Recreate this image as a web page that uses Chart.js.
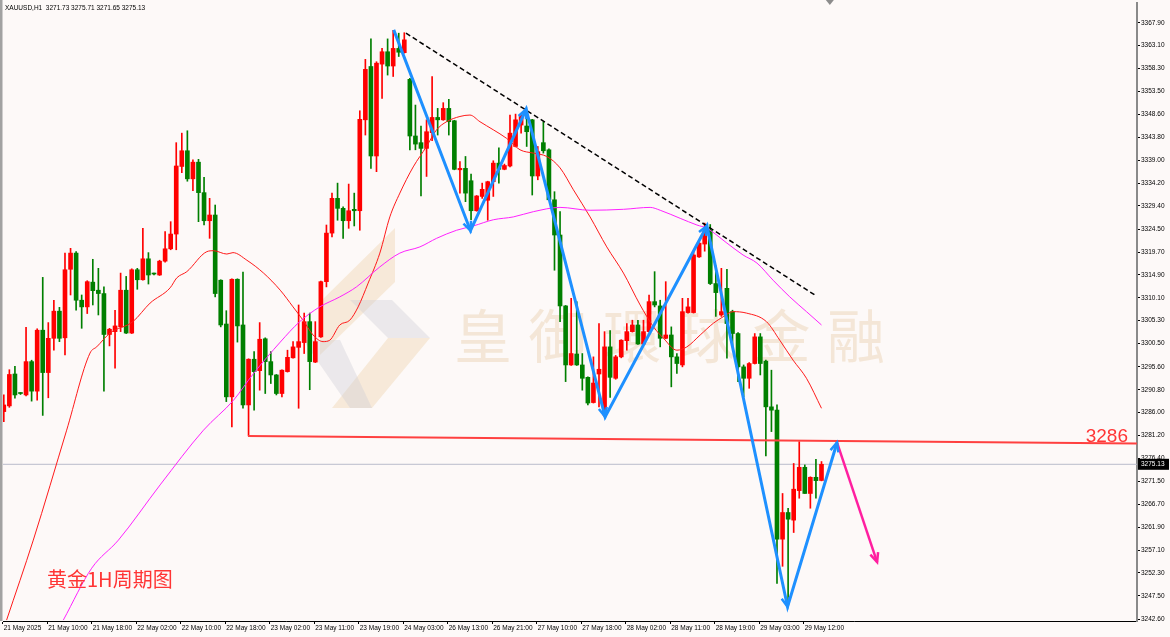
<!DOCTYPE html>
<html><head><meta charset="utf-8">
<script src="https://cdn.jsdelivr.net/npm/chart.js@4.4.1/dist/chart.umd.min.js"></script>
<style>html,body{margin:0;padding:0;background:#fdf9f8;}canvas{display:block;}</style>
</head><body>
<canvas id="c" width="1170" height="637"></canvas>
<script>
const symbolHeader = 'XAUUSD,H1  3271.73 3275.71 3271.65 3275.13';
const chartTitle = '黄金1H周期图';
const watermarkChars = ['皇','御','環','球','金','融'];
const xTickBars = [0,8,16,24,32,40,48,56,64,72,80,88,96,104,112,120,128,136,144];
const xTickLabels = ['21 May 2025','21 May 10:00','21 May 18:00','22 May 02:00','22 May 10:00','22 May 18:00','23 May 02:00','23 May 11:00','23 May 19:00','24 May 03:00','26 May 13:00','26 May 21:00','27 May 10:00','27 May 18:00','28 May 02:00','28 May 11:00','28 May 19:00','29 May 03:00','29 May 12:00'];
const yTickValues = [3367.90,3363.10,3358.30,3353.50,3348.60,3343.80,3339.00,3334.20,3329.40,3324.50,3319.70,3314.90,3310.10,3305.30,3300.50,3295.60,3290.80,3286.00,3281.20,3276.40,3271.50,3266.70,3261.90,3257.10,3252.30,3247.50,3242.60];

const open = [3286.2,3287.4,3294.1,3290.05,3289.7,3296.7,3290.5,3303.3,3294.4,3301.6,3307.3,3301.7,3316.1,3319.5,3309.6,3308.2,3313.4,3311.7,3311.0,3302.4,3303.0,3304.0,3311.7,3302.7,3316.0,3313.9,3318.3,3315.2,3314.9,3317.8,3320.4,3323.5,3337.7,3341.0,3335.1,3338.6,3332.2,3326.3,3327.5,3313.8,3304.6,3289.3,3314.0,3304.4,3287.6,3297.2,3294.8,3301.5,3296.7,3293.9,3290.0,3294.6,3297.5,3299.7,3300.7,3305.1,3296.6,3301.9,3313.5,3323.7,3331.0,3328.9,3326.3,3328.7,3328.4,3347.5,3358.7,3339.9,3359.2,3361.8,3358.8,3362.5,3361.6,3356.0,3344.1,3342.7,3341.5,3344.8,3348.0,3347.5,3349.9,3347.3,3337.0,3337.3,3334.7,3328.4,3331.4,3330.6,3334.5,3338.4,3337.1,3337.8,3341.9,3346.4,3346.2,3347.5,3335.7,3342.7,3341.2,3330.7,3323.3,3308.4,3296.0,3298.3,3296.0,3293.4,3288.1,3294.1,3285.5,3299.8,3293.2,3297.7,3301.1,3303.0,3304.4,3300.4,3303.0,3309.3,3308.4,3301.6,3302.3,3297.7,3296.0,3307.0,3307.0,3318.7,3321.4,3324.3,3313.1,3306.5,3312.1,3307.2,3302.6,3295.6,3293.2,3296.3,3301.9,3296.8,3287.2,3286.5,3259.4,3265.0,3263.4,3269.6,3274.5,3269.0,3272.4,3271.73];
const high = [3289.7,3295.0,3295.7,3290.2,3303.9,3297.0,3303.6,3314.4,3304.9,3309.6,3308.1,3319.5,3320.5,3319.8,3310.7,3313.7,3318.2,3316.3,3312.4,3303.7,3307.5,3315.3,3314.6,3316.2,3316.3,3324.7,3319.6,3315.3,3318.0,3324.0,3326.1,3342.7,3344.7,3345.2,3339.1,3339.2,3335.4,3331.0,3329.6,3313.9,3307.4,3314.1,3314.1,3315.5,3297.3,3298.8,3304.9,3301.7,3298.8,3294.0,3295.0,3299.1,3300.9,3308.6,3306.9,3306.9,3305.1,3313.6,3325.4,3332.1,3334.2,3329.2,3334.0,3332.1,3349.4,3360.2,3364.5,3359.7,3362.5,3364.5,3366.3,3365.7,3365.8,3356.2,3350.6,3346.2,3347.5,3356.6,3349.9,3351.1,3351.8,3347.4,3338.7,3339.8,3336.1,3331.6,3334.2,3334.6,3338.9,3341.6,3338.2,3348.5,3348.7,3348.5,3349.6,3347.6,3341.9,3347.1,3341.4,3332.4,3328.2,3308.5,3310.0,3309.3,3298.4,3293.5,3297.7,3304.7,3303.0,3303.2,3298.0,3301.3,3304.7,3305.4,3305.4,3305.4,3310.7,3315.6,3309.6,3313.5,3304.0,3298.4,3310.0,3310.0,3319.8,3321.7,3325.8,3325.5,3316.8,3316.3,3316.1,3307.5,3302.8,3296.0,3296.5,3302.6,3302.6,3297.0,3294.9,3287.6,3269.0,3265.9,3275.3,3279.9,3275.0,3272.5,3276.2,3275.71];
const low = [3284.1,3287.1,3289.0,3289.8,3289.5,3288.4,3288.6,3285.4,3289.1,3299.1,3300.9,3298.1,3310.7,3307.5,3303.7,3306.8,3308.6,3306.5,3290.5,3300.0,3295.3,3303.0,3302.6,3302.6,3311.9,3313.8,3313.0,3314.9,3314.8,3317.6,3320.2,3320.2,3336.4,3334.6,3332.6,3326.1,3325.4,3322.6,3310.3,3304.0,3288.3,3283.0,3300.8,3286.9,3281.1,3286.5,3290.7,3290.0,3292.1,3289.7,3289.3,3294.5,3297.4,3286.9,3298.4,3290.8,3296.5,3301.8,3312.4,3322.9,3326.4,3322.6,3324.7,3325.2,3324.3,3344.3,3337.3,3336.6,3352.0,3356.9,3356.6,3360.8,3361.5,3341.2,3341.2,3331.5,3335.6,3343.1,3344.3,3347.4,3344.3,3337.0,3332.1,3330.3,3326.5,3328.3,3331.0,3326.4,3331.4,3334.2,3337.0,3337.6,3341.8,3344.7,3341.9,3331.7,3334.9,3340.5,3330.6,3315.9,3305.1,3292.5,3295.9,3295.9,3290.7,3287.6,3288.0,3287.2,3285.1,3289.2,3293.0,3297.5,3299.1,3302.9,3300.3,3300.3,3302.9,3308.2,3299.8,3301.5,3291.4,3294.2,3295.6,3306.9,3306.9,3318.6,3319.9,3312.9,3306.2,3306.2,3297.4,3300.0,3292.5,3289.3,3291.1,3296.2,3293.9,3276.9,3282.0,3250.1,3253.7,3245.2,3260.8,3268.0,3269.0,3265.9,3268.0,3271.65];
const close = [3287.6,3294.0,3289.7,3290.0,3296.7,3290.5,3303.3,3294.4,3301.6,3307.3,3301.6,3316.0,3319.5,3309.6,3308.2,3313.5,3311.6,3311.0,3302.4,3303.5,3304.2,3311.7,3302.7,3316.0,3313.9,3318.3,3314.9,3315.1,3317.8,3320.4,3323.5,3337.8,3341.0,3335.1,3338.6,3332.2,3326.3,3327.5,3311.0,3304.4,3289.3,3314.0,3304.2,3287.6,3297.2,3294.6,3301.4,3296.7,3293.9,3290.0,3294.9,3297.6,3299.8,3300.9,3305.1,3296.7,3300.9,3313.5,3323.7,3331.0,3328.9,3326.3,3328.4,3328.4,3347.6,3358.1,3339.9,3359.4,3361.8,3358.8,3362.5,3361.7,3364.3,3344.1,3342.4,3341.5,3345.0,3348.0,3347.5,3349.9,3347.1,3337.1,3337.3,3332.1,3328.4,3331.5,3332.9,3334.5,3338.4,3337.1,3337.9,3344.7,3347.5,3348.3,3345.0,3335.7,3340.8,3341.0,3330.7,3323.3,3308.4,3296.0,3298.4,3296.0,3293.2,3288.0,3292.2,3295.1,3299.8,3293.4,3297.7,3301.2,3303.0,3304.4,3300.4,3303.0,3309.3,3308.6,3301.6,3302.3,3297.7,3296.3,3307.2,3308.2,3319.1,3321.6,3324.0,3313.1,3311.2,3307.2,3304.7,3302.6,3295.6,3293.2,3296.3,3301.9,3296.3,3287.2,3286.5,3259.4,3265.0,3263.6,3269.9,3274.5,3269.0,3272.4,3271.7,3275.13];

const maFastBars = [0.5,5.3,11.3,15.5,16.7,19.1,23.2,26.3,29.9,31.1,32.9,36.5,37.7,40.1,41.2,43.7,46.7,49.7,52.0,53.8,55.6,57.4,58.6,60.4,62.2,63.7,65.5,67.6,69.4,71.2,73.6,76.0,77.8,79.6,82.0,83.8,85.6,88.0,90.4,92.8,95.2,97.6,100.0,102.4,105.4,108.4,111.4,114.4,116.8,118.6,121.0,122.8,125.2,127.6,129.3,131.1,133.5,137.1,139.5,141.9,144.3,147.0];
const maFastValues = [3242.4,3259.2,3282.3,3298.5,3299.8,3302.7,3305.1,3309.0,3312.2,3314.3,3315.6,3319.8,3320.0,3319.3,3319.6,3318.0,3315.3,3311.7,3308.2,3305.4,3302.3,3300.9,3301.2,3304.4,3305.4,3308.2,3313.2,3319.5,3327.1,3332.1,3337.6,3341.9,3345.4,3347.1,3348.2,3348.5,3347.1,3345.4,3343.6,3341.2,3340.5,3339.8,3337.4,3332.8,3327.1,3320.8,3315.3,3308.6,3304.0,3301.6,3299.1,3299.8,3302.3,3304.8,3306.1,3307.2,3306.9,3305.1,3301.2,3297.0,3293.2,3286.9];
const maSlowBars = [10.7,15.8,20.6,28.1,35.9,41.3,44.9,49.7,53.2,56.8,60.4,63.4,67.6,71.2,74.8,77.8,81.4,84.4,88.0,91.6,95.2,100.0,105.4,111.4,116.2,118.0,121.6,124.6,126.4,130.0,132.9,135.4,138.3,141.3,144.3,147.0];
const maSlowValues = [3242.4,3253.3,3259.2,3270.8,3282.3,3288.6,3294.2,3300.8,3305.1,3308.2,3310.3,3312.4,3316.6,3319.5,3320.8,3322.6,3324.3,3325.2,3326.5,3327.1,3328.2,3329.1,3328.5,3328.7,3329.1,3328.5,3326.8,3325.4,3324.7,3321.6,3319.1,3317.4,3313.8,3310.3,3307.2,3304.4];

const zigzagBars = [70.1,83.9,93.9,108.1,126.4,140.9,149.8];
const zigzagPrices = [3366.4,3324.2,3349.7,3285.1,3325.2,3245.2,3279.7];
const projectionBars = [149.8,157.0];
const projectionPrices = [3279.7,3254.6];
const trendBars = [72.3,145.8];
const trendPrices = [3365.7,3310.7];
const levelBars = [43.9,203.7];
const levelPrices = [3281.1,3279.5];
const levelLabel = '3286';
const lastPrice = 3275.13;

const BULL = '#ff0000', BEAR = '#007f00';
const AXIS_FONT = {family: '"Liberation Sans", Arial, sans-serif', size: 6.5};
const isBull = i => close[i] >= open[i];
const pts = (xs, ys) => xs.map((x, i) => ({x, y: ys[i]}));

const deco = {
  id: 'deco',
  beforeDraw(chart) {
    const {ctx, width, height} = chart;
    ctx.save(); ctx.fillStyle = '#fdf9f8'; ctx.fillRect(0, 0, width, height); ctx.restore();
  },
  beforeDatasetsDraw(chart) {
    const {ctx, chartArea: a} = chart;
    ctx.save();
    ctx.beginPath(); ctx.rect(a.left, a.top, a.right - a.left, a.bottom - a.top); ctx.clip();
    const poly = (p, c) => { ctx.beginPath(); ctx.moveTo(p[0][0], p[0][1]); p.slice(1).forEach(q => ctx.lineTo(q[0], q[1])); ctx.closePath(); ctx.fillStyle = c; ctx.fill(); };
    const beige = 'rgba(236,208,166,0.38)', grey = 'rgba(205,205,212,0.38)';
    poly([[395,228],[395,282],[320,355],[320,302]], beige);
    poly([[350,300],[392,300],[430,338],[388,338]], grey);
    poly([[388,338],[430,338],[372,408],[332,408]], beige);
    poly([[303,340],[340,340],[372,408],[350,408]], grey);
    ctx.font = '58px "Noto Sans CJK TC", "Noto Sans CJK SC", sans-serif';
    ctx.fillStyle = 'rgba(232,204,170,0.42)';
    ctx.textAlign = 'center'; ctx.textBaseline = 'middle';
    watermarkChars.forEach((ch, k) => ctx.fillText(ch, 483 + 74.6 * k, 336));
    ctx.restore();
  },
  afterDatasetsDraw(chart) {
    const {ctx, scales: {x, y}} = chart;
    const head = (x0, y0, x1, y1, color) => {
      const ang = Math.atan2(y1 - y0, x1 - x0), len = 10, sp = 0.42;
      ctx.beginPath();
      ctx.moveTo(x1 - len * Math.cos(ang - sp), y1 - len * Math.sin(ang - sp));
      ctx.lineTo(x1, y1);
      ctx.lineTo(x1 - len * Math.cos(ang + sp), y1 - len * Math.sin(ang + sp));
      ctx.strokeStyle = color; ctx.lineWidth = 2.5; ctx.lineJoin = 'miter'; ctx.stroke();
    };
    ctx.save();
    for (let i = 1; i < zigzagBars.length; i++) {
      head(x.getPixelForValue(zigzagBars[i-1]), y.getPixelForValue(zigzagPrices[i-1]),
           x.getPixelForValue(zigzagBars[i]), y.getPixelForValue(zigzagPrices[i]), '#1e90ff');
    }
    head(x.getPixelForValue(projectionBars[0]), y.getPixelForValue(projectionPrices[0]),
         x.getPixelForValue(projectionBars[1]), y.getPixelForValue(projectionPrices[1]), '#ff1fa0');
    ctx.restore();
  },
  afterDraw(chart) {
    const {ctx, chartArea: a, scales: {x, y}} = chart;
    ctx.save();
    // left frame
    ctx.fillStyle = '#a2a2a2'; ctx.fillRect(0, 0, 2.5, a.bottom);
    // level label
    ctx.font = '19px "Liberation Sans", Arial, sans-serif';
    ctx.fillStyle = '#ff3535'; ctx.textAlign = 'right'; ctx.textBaseline = 'alphabetic';
    ctx.fillText(levelLabel, a.right - 9, y.getPixelForValue(levelPrices[1]) - 1.5);
    // title
    ctx.font = '20px "Noto Sans CJK SC", sans-serif';
    ctx.fillStyle = '#ff3535'; ctx.textAlign = 'left'; ctx.textBaseline = 'middle';
    ctx.fillText(chartTitle, 47, 579);
    // header
    ctx.font = '6.5px "Liberation Sans", Arial, sans-serif';
    ctx.fillStyle = '#000'; ctx.textBaseline = 'middle';
    ctx.fillText(symbolHeader, 5, 8);
    // last price box
    const py = y.getPixelForValue(lastPrice);
    ctx.fillStyle = '#000'; ctx.fillRect(a.right + 1, py - 5.5, 31, 11);
    ctx.fillStyle = '#fff'; ctx.textAlign = 'left';
    ctx.fillText(lastPrice.toFixed(2), a.right + 4, py);
    // chart shift marker
    const mx = x.getPixelForValue(open.length + 0.5);
    ctx.beginPath(); ctx.moveTo(mx - 4, 0); ctx.lineTo(mx + 4, 0); ctx.lineTo(mx, 5); ctx.closePath();
    ctx.fillStyle = '#8c8c8c'; ctx.fill();
    ctx.restore();
  }
};

const candleIdx = open.map((_, i) => i);
new Chart(document.getElementById('c'), {
  type: 'bar',
  data: {
    datasets: [
      {type: 'line', data: [{x: -1, y: lastPrice}, {x: 210, y: lastPrice}], borderColor: '#b9bccb', borderWidth: 1, pointRadius: 0, order: 20},
      {data: candleIdx.map(i => ({x: i, y: [low[i], high[i]]})), backgroundColor: candleIdx.map(i => isBull(i) ? BULL : BEAR), barThickness: 1, grouped: false, order: 12},
      {data: candleIdx.map(i => ({x: i, y: [open[i], close[i]]})), backgroundColor: candleIdx.map(i => isBull(i) ? BULL : BEAR), barThickness: 4, minBarLength: 1, grouped: false, order: 11},
      {type: 'line', data: pts(maFastBars, maFastValues), borderColor: '#ff1a1a', borderWidth: 1, pointRadius: 0, cubicInterpolationMode: 'monotone', order: 9},
      {type: 'line', data: pts(maSlowBars, maSlowValues), borderColor: '#ff22ff', borderWidth: 1, pointRadius: 0, cubicInterpolationMode: 'monotone', order: 8},
      {type: 'line', data: pts(levelBars, levelPrices), borderColor: '#ff4040', borderWidth: 2, pointRadius: 0, order: 5},
      {type: 'line', data: pts(trendBars, trendPrices), borderColor: '#000', borderWidth: 1.5, borderDash: [5, 3], pointRadius: 0, order: 4},
      {type: 'line', data: pts(zigzagBars, zigzagPrices), borderColor: '#1e90ff', borderWidth: 3, pointRadius: 0, order: 2},
      {type: 'line', data: pts(projectionBars, projectionPrices), borderColor: '#ff1fa0', borderWidth: 2.5, pointRadius: 0, order: 1}
    ]
  },
  options: {
    responsive: false, animation: false, devicePixelRatio: 1,
    layout: {padding: {left: 3, top: 3, right: 0, bottom: 0}},
    plugins: {legend: {display: false}, tooltip: {enabled: false}},
    scales: {
      x: {
        type: 'linear', min: -0.144, max: 203.72, offset: false,
        grid: {display: true, drawOnChartArea: false, drawTicks: true, tickLength: 3, color: '#000', offset: false},
        border: {display: true, color: '#000', width: 1},
        ticks: {autoSkip: false, maxRotation: 0, minRotation: 0, align: 'start', padding: 0, labelOffset: 1, color: '#000', font: AXIS_FONT,
          callback: (v, i) => xTickLabels[i]},
        afterBuildTicks: s => { s.ticks = xTickBars.map(b => ({value: b - 0.2})); },
        afterFit: s => { s.height = 16; s.paddingLeft = 0; s.paddingRight = 0; }
      },
      y: {
        type: 'linear', position: 'right', min: 3242.21, max: 3372.04,
        grid: {display: true, drawOnChartArea: false, drawTicks: true, tickLength: 3, color: '#000'},
        border: {display: true, color: '#8a8a8a', width: 2},
        ticks: {autoSkip: false, padding: 1, color: '#000', font: AXIS_FONT, callback: v => v.toFixed(2)},
        afterBuildTicks: s => { s.ticks = yTickValues.map(v => ({value: v})); },
        afterFit: s => { s.width = 33; s.paddingTop = 0; s.paddingBottom = 0; }
      }
    }
  },
  plugins: [deco]
});
</script>
</body></html>
